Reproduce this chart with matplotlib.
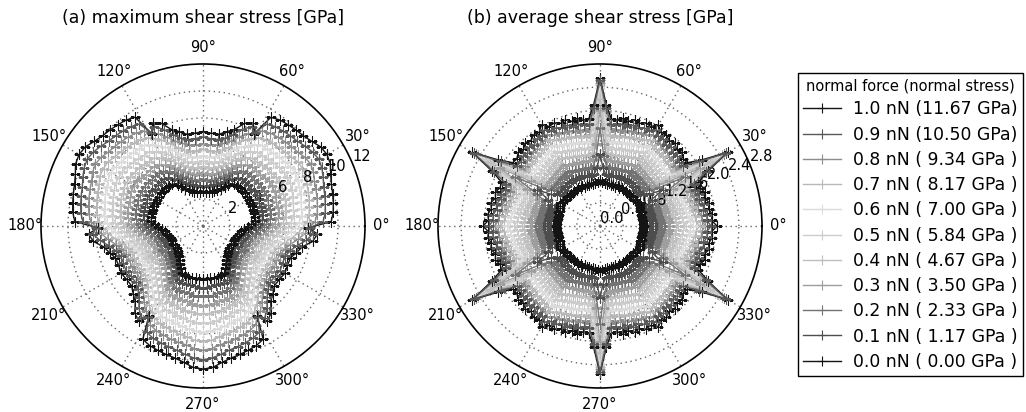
import numpy as np
import matplotlib.pyplot as plt

# normal force levels (legend order) and the matching normal stress
forces = [1.0, 0.9, 0.8, 0.7, 0.6, 0.5, 0.4, 0.3, 0.2, 0.1, 0.0]
normal_stress = [11.67, 10.50, 9.34, 8.17, 7.00, 5.84, 4.67, 3.50, 2.33, 1.17, 0.00]

# (a) maximum shear stress [GPa], read over one mirror half-sector
# (lobe at 30 deg -> valley at 90 deg); the plot has 3-fold symmetry
max_angles = [30, 34, 38, 42, 46, 50, 54, 58, 61, 64, 68, 72, 76, 80, 85, 90]
max_shear = [
    [10.6, 10.5, 10.2, 10.0, 9.9, 9.8, 9.7, 9.5, 7.8, 8.5, 8.2, 7.5, 7.2, 6.9, 6.9, 7.0],
    [9.9, 9.8, 9.6, 9.4, 9.3, 9.2, 9.1, 8.9, 7.9, 8.2, 7.7, 7.1, 6.7, 6.5, 6.5, 6.6],
    [9.2, 9.1, 8.9, 8.8, 8.7, 8.6, 8.5, 8.3, 7.8, 7.6, 7.1, 6.6, 6.3, 6.1, 6.0, 6.1],
    [8.5, 8.5, 8.3, 8.2, 8.1, 8.0, 7.9, 7.7, 7.4, 7.1, 6.6, 6.1, 5.8, 5.6, 5.6, 5.7],
    [7.9, 7.8, 7.7, 7.6, 7.5, 7.4, 7.4, 7.1, 6.8, 6.5, 6.1, 5.6, 5.4, 5.2, 5.1, 5.2],
    [7.2, 7.2, 7.1, 7.0, 6.9, 6.8, 6.8, 6.5, 6.3, 5.9, 5.5, 5.2, 4.9, 4.8, 4.7, 4.8],
    [6.5, 6.5, 6.4, 6.4, 6.3, 6.2, 6.2, 5.9, 5.7, 5.4, 5.0, 4.7, 4.5, 4.3, 4.3, 4.4],
    [5.9, 5.9, 5.8, 5.7, 5.7, 5.7, 5.6, 5.3, 5.1, 4.8, 4.5, 4.2, 4.0, 3.9, 3.8, 3.9],
    [5.2, 5.2, 5.2, 5.1, 5.1, 5.1, 5.0, 4.7, 4.5, 4.2, 3.9, 3.7, 3.5, 3.4, 3.4, 3.5],
    [4.6, 4.6, 4.5, 4.5, 4.5, 4.5, 4.4, 4.1, 3.9, 3.6, 3.4, 3.2, 3.1, 3.0, 2.9, 3.0],
    [3.9, 3.9, 3.92, 3.92, 3.9, 3.88, 3.85, 3.55, 3.3, 3.05, 2.85, 2.72, 2.62, 2.55, 2.5, 2.6],
]

# (b) average shear stress [GPa], read over one mirror half-sector
# (between-spike at 0 deg -> spike at 30 deg); the plot has 6-fold symmetry
avg_angles = [0, 3, 6, 9, 12, 15, 18, 21, 24, 27, 30]
avg_shear = [
    [2.02, 1.93, 1.95, 1.90, 1.93, 1.87, 1.90, 1.85, 1.86, 2.10, 2.55],
    [1.92, 1.85, 1.86, 1.81, 1.83, 1.78, 1.80, 1.76, 1.77, 2.05, 2.52],
    [1.82, 1.76, 1.76, 1.72, 1.73, 1.69, 1.70, 1.66, 1.68, 1.98, 2.48],
    [1.72, 1.66, 1.65, 1.62, 1.62, 1.59, 1.59, 1.56, 1.58, 1.90, 2.44],
    [1.60, 1.55, 1.54, 1.51, 1.51, 1.48, 1.48, 1.46, 1.48, 1.80, 2.38],
    [1.48, 1.44, 1.42, 1.40, 1.39, 1.37, 1.37, 1.35, 1.38, 1.70, 2.30],
    [1.35, 1.32, 1.30, 1.28, 1.27, 1.26, 1.25, 1.24, 1.27, 1.58, 2.20],
    [1.21, 1.19, 1.18, 1.16, 1.15, 1.14, 1.14, 1.13, 1.16, 1.42, 2.00],
    [1.07, 1.06, 1.05, 1.04, 1.03, 1.02, 1.02, 1.02, 1.05, 1.22, 1.70],
    [0.92, 0.91, 0.91, 0.90, 0.90, 0.89, 0.89, 0.89, 0.91, 1.00, 1.25],
    [0.76, 0.74, 0.75, 0.73, 0.75, 0.74, 0.76, 0.74, 0.75, 0.77, 0.80],
]

grays = ['0.08', '0.35', '0.55', '0.72', '0.86', '0.8', '0.75', '0.62', '0.45', '0.3', '0.08']


def unfold(half_angles, half_r, period):
    # mirror the half-sector about its last angle, then repeat it round the circle
    a = np.asarray(half_angles, float)
    r = np.asarray(half_r, float)
    a_sec = np.concatenate([a, 2 * a[-1] - a[::-1][1:]])
    r_sec = np.concatenate([r, r[::-1][1:]])
    n = int(round(360 / period))
    a_all = np.concatenate([a_sec[:-1] + period * k for k in range(n)] + [[a_sec[0] + 360]])
    r_all = np.concatenate([r_sec[:-1]] * n + [[r_sec[0]]])
    return np.deg2rad(a_all), r_all


def labels_for(f, s):
    if s >= 10:
        return f'{f:.1f} nN ({s:.2f} GPa)'
    return f'{f:.1f} nN ( {s:.2f} GPa )'


fig = plt.figure(figsize=(10.26, 4.12), dpi=100)
ax_a = fig.add_axes([41 / 1026, 24 / 412, 324 / 1026, 324 / 412], projection='polar')
ax_b = fig.add_axes([438 / 1026, 24 / 412, 324 / 1026, 324 / 412], projection='polar')

panels = [
    (ax_a, max_angles, max_shear, 120, 12.0, [2, 4, 6, 8, 10, 12], '%d',
     '(a) maximum shear stress [GPa]'),
    (ax_b, avg_angles, avg_shear, 60, 2.8, [0.0, 0.4, 0.8, 1.2, 1.6, 2.0, 2.4, 2.8], '%.1f',
     '(b) average shear stress [GPa]'),
]

handles = []
for ax, angs, table, period, rmax, rticks, fmt, title in panels:
    for i, f in enumerate(forces):
        th, r = unfold(angs, table[i], period)
        dark = f <= 0.2 or f >= 0.9
        ln, = ax.plot(th, r, color=grays[i], lw=1.0, marker='+', ms=6.5, mew=0.8,
                      label=labels_for(f, normal_stress[i]), zorder=4 if dark else 3)
        if ax is ax_a:
            handles.append(ln)

    ax.set_ylim(0, rmax)
    ax.set_yticks([t for t in rticks if 0 < t < rmax])
    ax.set_yticklabels([])
    ax.set_xticks(np.deg2rad(np.arange(0, 360, 30)))
    ax.set_xticklabels([])
    ax.grid(True, color='0.4', linestyle=(0, (1, 2.6)), lw=1.0)
    ax.spines['polar'].set_linewidth(1.2)

    for t in rticks:
        ax.text(np.deg2rad(22.5), t, fmt % t, ha='left', va='bottom', fontsize=10.5,
                zorder=3.5)
    for deg in range(0, 360, 30):
        rad = np.deg2rad(deg)
        ax.text(0.5 + 0.55 * np.cos(rad), 0.5 + 0.55 * np.sin(rad), f'{deg}\u00b0',
                transform=ax.transAxes, ha='center', va='center', fontsize=10.5)
    ax.text(0.5, 1.142, title, transform=ax.transAxes, ha='center', va='center', fontsize=12.5)

leg = fig.legend(handles=handles, loc='upper left', bbox_to_anchor=(798 / 1026, 1 - 73 / 412),
                 borderaxespad=0, fontsize=12.4, title='normal force (normal stress)',
                 title_fontsize=10.5, fancybox=False, edgecolor='black', framealpha=1,
                 labelspacing=0.42, handlelength=2.2, handletextpad=0.7, borderpad=0.3)
leg.get_frame().set_linewidth(1.0)

fig.savefig('out.png', dpi=100)
